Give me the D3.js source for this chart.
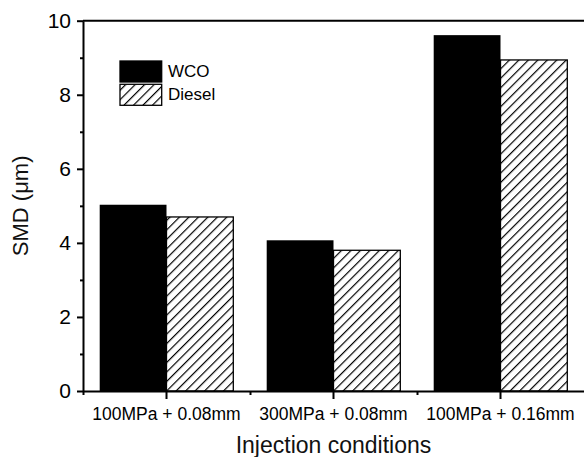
<!DOCTYPE html>
<html lang="en">
<head>
  <meta charset="UTF-8">
  <title>SMD by injection condition</title>
  <style>
    body { margin: 0; background: #fff; }
    svg { display: block; font-family: "Liberation Sans", Arial, sans-serif; }
  </style>
</head>
<body>
  <script src="https://d3js.org/d3.v7.min.js"></script>
  <script>
    'use strict';

    const categories = ["100MPa + 0.08mm", "300MPa + 0.08mm", "100MPa + 0.16mm"];
    const seriesNames = ["WCO", "Diesel"];
    const wcoValues = [5.03, 4.07, 9.61];
    const dieselValues = [4.70, 3.80, 8.94];
    const yTicks = [0, 2, 4, 6, 8, 10];
    const yMinorTicks = [1, 3, 5, 7, 9];

    const width = 584;
    const height = 457;
    const plotLeft = 83, plotRight = 588, plotTop = 20.7, plotBottom = 391;

    const svg = d3.select('body').append('svg')
      .attr('width', width)
      .attr('height', height);

    // hatch for diesel bars
    svg.append('defs').append('pattern')
      .attr('id', 'hatch')
      .attr('patternUnits', 'userSpaceOnUse')
      .attr('width', 6.7)
      .attr('height', 6.7)
      .attr('patternTransform', 'rotate(45)')
      .call(p => {
        p.append('rect').attr('width', 6.7).attr('height', 6.7).attr('fill', '#fff');
        p.append('line')
          .attr('x1', 0).attr('y1', 0).attr('x2', 0).attr('y2', 6.7)
          .attr('stroke', '#000').attr('stroke-width', 2.4);
      });

    const x = d3.scaleBand().domain(categories).range([plotLeft, 584]).padding(0);
    const bw = x.bandwidth();
    const x1 = d3.scaleBand().domain(seriesNames).range([bw * 0.1, bw * 0.9]).padding(0);
    const y = d3.scaleLinear().domain([0, 10]).range([plotBottom, plotTop]);

    const rows = categories.map((c, i) => ({ cat: c, vals: [wcoValues[i], dieselValues[i]] }));

    const groups = svg.selectAll('g.grp').data(rows).enter()
      .append('g').attr('class', 'grp')
      .attr('transform', d => 'translate(' + x(d.cat) + ',0)');

    groups.selectAll('rect')
      .data(d => d.vals.map((v, j) => ({ name: seriesNames[j], v: v })))
      .enter().append('rect')
      .attr('x', d => x1(d.name))
      .attr('width', x1.bandwidth())
      .attr('y', d => y(d.v))
      .attr('height', d => y(0) - y(d.v))
      .attr('fill', d => d.name === 'WCO' ? '#000' : 'url(#hatch)')
      .attr('stroke', '#000')
      .attr('stroke-width', d => d.name === 'WCO' ? 0 : 1.3);

    // frame: top + right (right edge falls outside the picture)
    svg.append('line').attr('x1', plotLeft).attr('x2', plotRight).attr('y1', plotTop).attr('y2', plotTop)
      .attr('stroke', '#000').attr('stroke-width', 2);
    svg.append('line').attr('x1', plotRight).attr('x2', plotRight).attr('y1', plotTop).attr('y2', plotBottom)
      .attr('stroke', '#000').attr('stroke-width', 2);

    // y axis
    const yAxis = svg.append('g')
      .attr('transform', 'translate(' + plotLeft + ',0)')
      .call(d3.axisLeft(y).tickValues(yTicks).tickSize(6).tickSizeOuter(0).tickPadding(6).tickFormat(d3.format('d')));
    svg.append('g')
      .attr('transform', 'translate(' + plotLeft + ',0)')
      .call(d3.axisLeft(y).tickValues(yMinorTicks).tickSize(3).tickFormat(''))
      .call(g => g.select('.domain').remove());

    // x axis
    const xAxis = svg.append('g')
      .attr('transform', 'translate(0,' + plotBottom + ')')
      .call(d3.axisBottom(x).tickSize(8).tickSizeOuter(0).tickPadding(9));
    svg.append('g')
      .attr('transform', 'translate(0,' + plotBottom + ')')
      .call(d3.axisBottom(d3.scaleLinear().domain([0, 3]).range([plotLeft, 584]))
        .tickValues([0, 1, 2]).tickSize(4).tickFormat(''))
      .call(g => g.select('.domain').remove());

    svg.selectAll('.domain, .tick line').attr('stroke', '#000').attr('stroke-width', 2);
    yAxis.selectAll('text').attr('font-size', 21).attr('fill', '#000')
      .attr('font-family', '"Liberation Sans", Arial, sans-serif');
    xAxis.selectAll('text').attr('font-size', 17.5).attr('fill', '#000')
      .attr('font-family', '"Liberation Sans", Arial, sans-serif');

    // axis titles
    svg.append('text')
      .attr('x', (plotLeft + 584) / 2).attr('y', 453)
      .attr('text-anchor', 'middle').attr('font-size', 23).attr('fill', '#111')
      .text('Injection conditions');
    svg.append('text')
      .attr('transform', 'translate(28,' + ((plotTop + plotBottom) / 2) + ') rotate(-90)')
      .attr('text-anchor', 'middle').attr('font-size', 22).attr('fill', '#111')
      .text('SMD (\u03bcm)');

    // legend
    const legend = svg.append('g').attr('transform', 'translate(120,61)');
    seriesNames.forEach((name, i) => {
      legend.append('rect')
        .attr('x', 0).attr('y', i * 23.3)
        .attr('width', 41.7).attr('height', 21)
        .attr('fill', name === 'WCO' ? '#000' : 'url(#hatch)')
        .attr('stroke', '#000').attr('stroke-width', 1.3);
      legend.append('text')
        .attr('x', 48).attr('y', i * 23.3 + 16)
        .attr('font-size', 17).attr('fill', '#000')
        .text(name);
    });
  </script>
</body>
</html>
